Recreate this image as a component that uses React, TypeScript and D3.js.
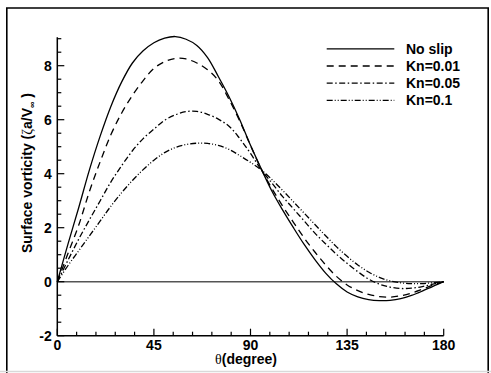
import React from "react";
import * as d3 from "d3";

const theta = [0,5,10,15,20,25,30,35,40,45,50,55,60,65,70,75,80,85,90,95,100,105,110,115,120,125,130,135,140,145,150,155,160,165,170,175,180];
const noSlip = [0,1.4,2.75,4.15,5.4,6.5,7.4,8.1,8.55,8.85,9.02,9.08,8.98,8.75,8.3,7.6,6.85,6.0,5.05,4.18,3.35,2.65,2.0,1.38,0.82,0.32,-0.08,-0.38,-0.56,-0.66,-0.7,-0.69,-0.63,-0.51,-0.35,-0.17,0];
const kn001 = [0,1.05,2.1,3.35,4.45,5.45,6.25,6.9,7.45,7.9,8.15,8.27,8.25,8.1,7.85,7.45,6.75,5.95,5.05,4.17,3.45,2.8,2.2,1.62,1.1,0.62,0.2,-0.12,-0.33,-0.47,-0.55,-0.57,-0.52,-0.42,-0.28,-0.13,0];
const kn005 = [0,0.8,1.58,2.3,3.0,3.7,4.3,4.85,5.3,5.65,5.98,6.18,6.3,6.31,6.2,6.02,5.76,5.3,4.75,4.15,3.65,3.15,2.7,2.25,1.8,1.4,1.02,0.68,0.37,0.1,-0.09,-0.2,-0.25,-0.24,-0.18,-0.09,0];
const kn01 = [0,0.6,1.15,1.7,2.25,2.8,3.3,3.75,4.15,4.5,4.78,4.97,5.08,5.13,5.12,5.05,4.9,4.67,4.42,4.14,3.78,3.38,2.96,2.54,2.12,1.7,1.3,0.94,0.62,0.36,0.16,0.03,-0.04,-0.07,-0.07,-0.04,0];

const seriesNames = ["No slip", "Kn=0.01", "Kn=0.05", "Kn=0.1"];
const seriesValues = [noSlip, kn001, kn005, kn01];
const dashes = ["none", "7,5", "6,2.5,1.5,2.5", "6,2,1,2,1,2"];

const xMajor = [0, 45, 90, 135, 180];
const yMajor = [-2, 0, 2, 4, 6, 8];

export default function App() {
  const x = d3.scaleLinear().domain([0, 180]).range([57.3, 443.7]);
  const y = d3.scaleLinear().domain([-2, 9]).range([335.7, 38.7]);
  const line = d3
    .line<number>()
    .x((_, i) => x(theta[i]))
    .y((d) => y(d))
    .curve(d3.curveCatmullRom);

  const xMinor = d3.range(0, 180.1, 9);
  const yMinor = d3.range(-2, 9.01, 0.5);
  const font = "'Liberation Sans', Arial, sans-serif";

  return (
    <svg
      width={491}
      height={373}
      style={{ position: "absolute", left: 0, top: 0, background: "#fff" }}
      fontFamily={font}
    >
      <rect x={0} y={0} width={491} height={373} fill="#fff" />
      {/* frame */}
      <path d="M6.8,373 V8 H488.2 V373" fill="none" stroke="#000" strokeWidth={1.6} />
      <line x1={0} x2={491} y1={371.5} y2={371.5} stroke="#d9d9d9" strokeWidth={1.5} />

      {/* zero line */}
      <line x1={x(0)} x2={x(180)} y1={y(0)} y2={y(0)} stroke="#555" strokeWidth={1.4} />

      {/* curves */}
      {seriesValues.map((vals, i) => (
        <path
          key={i}
          d={line(vals) || ""}
          fill="none"
          stroke="#000"
          strokeWidth={1.3}
          strokeDasharray={dashes[i]}
        />
      ))}

      {/* axes */}
      <line x1={x(0)} x2={x(180)} y1={y(-2)} y2={y(-2)} stroke="#000" strokeWidth={1.5} />
      <line x1={x(0)} x2={x(0)} y1={y(-2)} y2={y(9.05)} stroke="#000" strokeWidth={1.5} />
      {xMinor.map((t) => {
        const major = t % 45 === 0;
        return (
          <line
            key={"xt" + t}
            x1={x(t)}
            x2={x(t)}
            y1={y(-2)}
            y2={y(-2) - (major ? 7 : 4)}
            stroke="#000"
            strokeWidth={1.2}
          />
        );
      })}
      {yMinor.map((v) => {
        const major = Math.abs(v % 2) < 1e-6;
        return (
          <line
            key={"yt" + v}
            x1={x(0)}
            x2={x(0) + (major ? 7 : 4)}
            y1={y(v)}
            y2={y(v)}
            stroke="#000"
            strokeWidth={1.2}
          />
        );
      })}
      {xMajor.map((t) => (
        <text key={"xl" + t} x={x(t)} y={349.5} textAnchor="middle" fontSize={14} fontWeight="bold">
          {t}
        </text>
      ))}
      {yMajor.map((v) => (
        <text key={"yl" + v} x={51.8} y={y(v) + 5} textAnchor="end" fontSize={14} fontWeight="bold">
          {v}
        </text>
      ))}

      {/* x title */}
      <text x={246} y={364} textAnchor="middle" fontSize={14} fontWeight="bold">
        <tspan fontFamily="'Liberation Serif', 'DejaVu Serif', serif" fontWeight="normal">θ</tspan>
        <tspan>(degree)</tspan>
      </text>

      {/* y title */}
      <text
        transform={`translate(31.5,173) rotate(-90)`}
        textAnchor="middle"
        fontSize={14}
        fontWeight="bold"
      >
        <tspan>Surface vorticity (</tspan>
        <tspan fontFamily="'Liberation Serif', 'DejaVu Serif', serif" fontWeight="normal">ζ</tspan>
        <tspan>a/V</tspan>
        <tspan fontSize={9} dy={3}>∞</tspan>
        <tspan dy={-3}> )</tspan>
      </text>

      {/* legend */}
      {seriesNames.map((name, i) => {
        const ly = 48.8 + i * 17.2;
        return (
          <g key={name}>
            <line
              x1={326.7}
              x2={394.3}
              y1={ly}
              y2={ly}
              stroke="#000"
              strokeWidth={1.3}
              strokeDasharray={dashes[i]}
            />
            <text x={406} y={ly + 5} fontSize={14} fontWeight="bold">
              {name}
            </text>
          </g>
        );
      })}
    </svg>
  );
}
